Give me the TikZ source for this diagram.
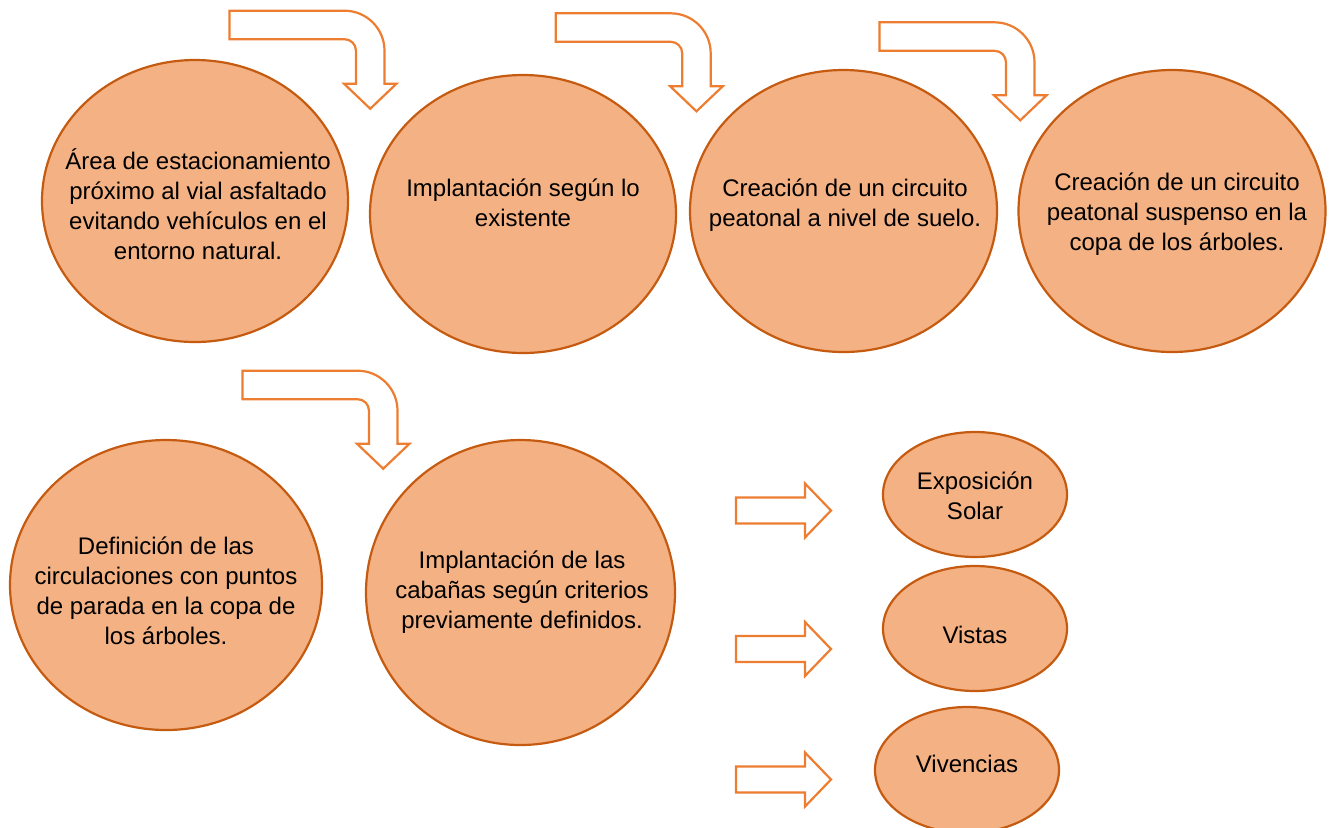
\documentclass[tikz,border=0pt]{standalone}
\usepackage{fontspec}
\setmainfont{Liberation Sans}
\usetikzlibrary{shapes.geometric}
\definecolor{bubblefill}{HTML}{F4B183}
\definecolor{bubbleline}{HTML}{C55A11}
\definecolor{arrowline}{HTML}{ED7D31}
\tikzset{
  bubble/.style={ellipse, draw=bubbleline, fill=bubblefill, line width=1.1pt, inner sep=0pt},
  txt/.style={align=center, inner sep=0pt, text=black, font=\fontsize{12pt}{15pt}\selectfont},
  blockarrow/.style={draw=arrowline, fill=white, line width=1.1pt, line join=miter}
}
% bent arrow: #1 = left x of tail, #2 = top y of tail
\newcommand{\bentarrow}[2]{%
  \draw[blockarrow]
    (#1,#2) -- ({#1+115},#2)
    .. controls ({#1+115+22.1},#2) and ({#1+155},{#2+40-22.1}) .. ({#1+155},{#2+40})
    -- ({#1+155},{#2+73}) -- ({#1+167},{#2+73})
    -- ({#1+140.75},{#2+98})
    -- ({#1+114.5},{#2+73}) -- ({#1+126.5},{#2+73})
    -- ({#1+126.5},{#2+40})
    .. controls ({#1+126.5},{#2+40-6.4}) and ({#1+115+6.4},{#2+28.5}) .. ({#1+115},{#2+28.5})
    -- (#1,{#2+28.5}) -- cycle;}
% right arrow: #1 = centre y
\newcommand{\rightblock}[1]{%
  \draw[blockarrow]
    (736,{#1-13}) -- (805,{#1-13}) -- (805,{#1-27}) -- (831,#1)
    -- (805,{#1+27}) -- (805,{#1+13}) -- (736,{#1+13}) -- cycle;}
\begin{document}
\begin{tikzpicture}[x=0.5pt,y=-0.5pt]
\useasboundingbox (0,0) rectangle (1333,827);
\clip (0,0) rectangle (1333,827);
% big ellipses
\node[bubble, minimum width=153pt, minimum height=141pt] (e1) at (195,201) {};
\node[bubble, minimum width=153pt, minimum height=139pt] (e2) at (523,214) {};
\node[bubble, minimum width=153.5pt, minimum height=141pt] (e3) at (843.5,211) {};
\node[bubble, minimum width=153.5pt, minimum height=141pt] (e4) at (1172,211) {};
\node[bubble, minimum width=156pt, minimum height=145pt] (e5) at (166,585) {};
\node[bubble, minimum width=154.5pt, minimum height=152.5pt] (e6) at (520.5,592.5) {};
% small ellipses
\node[bubble, minimum width=92pt, minimum height=62.5pt] (s1) at (975,494.5) {};
\node[bubble, minimum width=92pt, minimum height=62.5pt] (s2) at (975,628.5) {};
\node[bubble, minimum width=92pt, minimum height=63pt] (s3) at (967,770) {};
% texts
\node[txt] (t1) at (198,204.5) {Área de estacionamiento\\próximo al vial asfaltado\\evitando vehículos en el\\entorno natural.};
\node[txt] (t2) at (523,203) {Implantación según lo\\existente};
\node[txt] (t3) at (845,205.5) {Creación de un circuito\\peatonal a nivel de suelo.};
\node[txt] (t4) at (1177,214.5) {Creación de un circuito\\peatonal suspenso en la\\copa de los árboles.};
\node[txt] (t5) at (166,590.5) {Definición de las\\circulaciones con puntos\\de parada en la copa de\\los árboles.};
\node[txt] (t6) at (522,592) {Implantación de las\\cabañas según criterios\\previamente definidos.};
\node[txt] (t7) at (975,496) {Exposición\\Solar};
\node[txt] (t8) at (975,635) {Vistas};
\node[txt] (t9) at (967,763.5) {Vivencias};
% bent arrows
\bentarrow{229.5}{10.7}
\bentarrow{555.7}{13.3}
\bentarrow{879.5}{22.3}
\bentarrow{242.5}{370.7}
% right arrows
\rightblock{510.5}
\rightblock{649}
\rightblock{779.5}
\end{tikzpicture}
\end{document}
